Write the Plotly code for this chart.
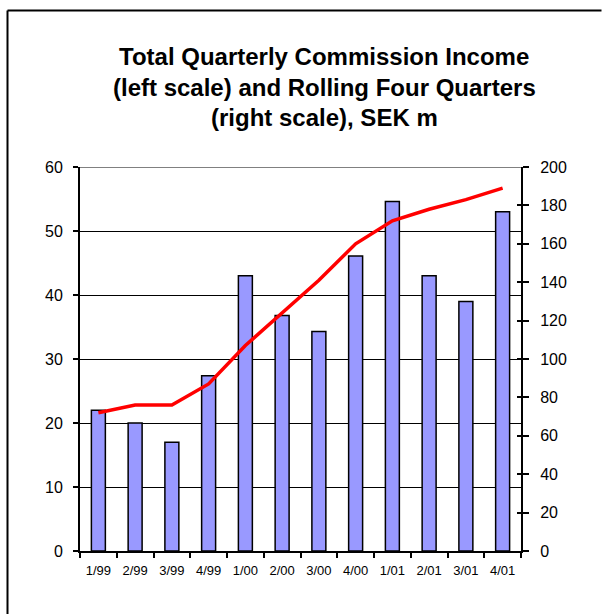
import plotly.graph_objects as go

quarters = ["1/99", "2/99", "3/99", "4/99", "1/00", "2/00", "3/00", "4/00", "1/01", "2/01", "3/01", "4/01"]
quarterly_income = [22, 20, 17, 27.4, 43, 36.8, 34.3, 46.1, 54.6, 43, 39, 53]
rolling_four_quarters = [72, 76, 76, 87, 107, 124, 141, 160, 172, 178, 183, 189]
left_ticks = [0, 10, 20, 30, 40, 50, 60]
right_ticks = [0, 20, 40, 60, 80, 100, 120, 140, 160, 180, 200]
title_lines = ["Total Quarterly Commission Income",
               "(left scale) and Rolling Four Quarters",
               "(right scale), SEK m"]

FONT = "Arial, Liberation Sans, sans-serif"

fig = go.Figure()
fig.add_trace(go.Bar(
    x=quarters, y=quarterly_income, yaxis="y",
    marker=dict(color="#9999FF", line=dict(color="black", width=1.5)),
    showlegend=False, hoverinfo="x+y"))
fig.add_trace(go.Scatter(
    x=quarters, y=rolling_four_quarters, yaxis="y2", mode="lines",
    line=dict(color="#FF0000", width=3.5), showlegend=False))
# invisible trace to anchor the inside-tick overlay axis
fig.add_trace(go.Scatter(x=quarters, y=rolling_four_quarters, yaxis="y3",
                         mode="lines", line=dict(width=0), opacity=0,
                         showlegend=False, hoverinfo="skip"))

fig.update_layout(
    width=602, height=614,
    margin=dict(l=80, r=81, t=167, b=63),
    paper_bgcolor="white", plot_bgcolor="white",
    bargap=0.62,
    font=dict(family=FONT, color="black"),
    xaxis=dict(type="category", showline=True, linecolor="black", linewidth=2,
               ticks="outside", tickson="boundaries", ticklen=5, tickcolor="black",
               tickwidth=1.5, showgrid=False, tickfont=dict(size=13),
               tickangle=0, ticklabelstandoff=6),
    yaxis=dict(range=[0, 60], tickvals=left_ticks, showline=True, linecolor="black",
               linewidth=2, ticks="outside", ticklen=5, tickwidth=1.5,
               tickcolor="black", showgrid=True, gridcolor="black", gridwidth=1,
               zeroline=False, tickfont=dict(size=16), ticklabelstandoff=7),
    yaxis2=dict(range=[0, 200], tickvals=right_ticks, overlaying="y", side="right",
                showline=True, linecolor="black", linewidth=2, ticks="outside",
                ticklen=6, tickwidth=1.5, tickcolor="black", showgrid=False,
                zeroline=False, tickfont=dict(size=16), ticklabelstandoff=8),
    yaxis3=dict(range=[0, 200], tickvals=right_ticks, overlaying="y", side="right",
                showline=False, ticks="inside", ticklen=4, tickwidth=1.5,
                tickcolor="black", showgrid=False, zeroline=False,
                showticklabels=False),
)

# grey top border of plot area
fig.add_shape(type="line", xref="paper", yref="y", x0=0, x1=1, y0=60, y1=60,
              line=dict(color="#808080", width=2), layer="above")
# outer frame (left and top edges visible)
frame_left = -72.5 / 441
frame_top = (551 - 10.5) / 384
frame_right = 521.5 / 441
fig.add_shape(type="line", xref="paper", yref="paper",
              x0=frame_left, x1=frame_left, y0=-0.5, y1=frame_top,
              line=dict(color="black", width=2))
fig.add_shape(type="line", xref="paper", yref="paper",
              x0=frame_left, x1=frame_right, y0=frame_top, y1=frame_top,
              line=dict(color="black", width=2))

ys = [56, 87, 118]
for line_text, ypx in zip(title_lines, ys):
    fig.add_annotation(text=f"<b>{line_text}</b>", xref="paper", yref="paper",
                       x=(324 - 80) / 441, y=(551 - ypx) / 384, showarrow=False,
                       font=dict(size=24, family=FONT, color="black"),
                       xanchor="center", yanchor="middle")

fig.write_html("out.html", config={"displayModeBar": False},
               post_script="document.body.style.margin='0';"
                           "document.body.style.overflow='hidden';"
                           "document.documentElement.style.overflow='hidden';")
